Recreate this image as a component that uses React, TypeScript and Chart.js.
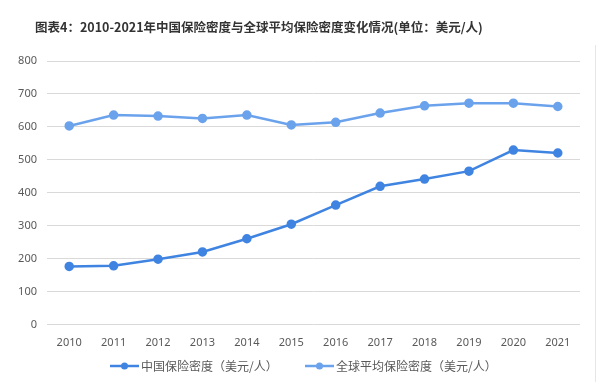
import React, { useEffect, useRef } from "react";
import { Chart, registerables } from "chart.js";

Chart.register(...registerables);

const years = ["2010", "2011", "2012", "2013", "2014", "2015", "2016", "2017", "2018", "2019", "2020", "2021"];
const chinaDensity = [177, 179, 199, 221, 261, 305, 363, 420, 442, 466, 530, 521];
const globalDensity = [603, 636, 633, 626, 636, 606, 614, 642, 664, 672, 672, 662];
const seriesNames = ["中国保险密度（美元/人）", "全球平均保险密度（美元/人）"];
const titleText = "图表4：2010-2021年中国保险密度与全球平均保险密度变化情况(单位：美元/人)";

const chinaColor = "#4084e2";
const globalColor = "#6ba2ec";
const seriesColors = [chinaColor, globalColor];

const decorPlugin = {
  id: "decor",
  afterDraw(chart: any) {
    const ctx = chart.ctx;
    ctx.save();
    // title
    ctx.font = "bold 12.5px 'Noto Sans CJK SC', sans-serif";
    ctx.fillStyle = "#333333";
    ctx.textBaseline = "middle";
    ctx.textAlign = "left";
    ctx.fillText(titleText, 35, 27);
    // frame line on the right
    ctx.strokeStyle = "#e6e6e6";
    ctx.lineWidth = 1;
    ctx.beginPath();
    ctx.moveTo(595.5, 45);
    ctx.lineTo(595.5, 382);
    ctx.stroke();
    // legend
    const ly = 366;
    const starts = [110, 305];
    ctx.font = "12px 'Noto Sans CJK SC', sans-serif";
    seriesNames.forEach((name, i) => {
      const x0 = starts[i];
      const col = seriesColors[i];
      ctx.strokeStyle = col;
      ctx.lineWidth = 2.5;
      ctx.beginPath();
      ctx.moveTo(x0, ly);
      ctx.lineTo(x0 + 29, ly);
      ctx.stroke();
      ctx.fillStyle = col;
      ctx.beginPath();
      ctx.arc(x0 + 14.5, ly, 3.5, 0, Math.PI * 2);
      ctx.fill();
      ctx.fillStyle = "#595959";
      ctx.fillText(name, x0 + 31, ly);
    });
    ctx.restore();
  },
};

export default function App() {
  const ref = useRef<HTMLCanvasElement>(null);
  useEffect(() => {
    document.body.style.margin = "0";
    const chart = new Chart(ref.current!, {
      type: "line",
      data: {
        labels: years,
        datasets: [
          {
            label: seriesNames[0],
            data: chinaDensity,
            borderColor: chinaColor,
            backgroundColor: chinaColor,
            borderWidth: 2.5,
            pointRadius: 3.5,
            pointBackgroundColor: chinaColor,
            pointBorderColor: chinaColor,
          },
          {
            label: seriesNames[1],
            data: globalDensity,
            borderColor: globalColor,
            backgroundColor: globalColor,
            borderWidth: 2.5,
            pointRadius: 3.5,
            pointBackgroundColor: globalColor,
            pointBorderColor: globalColor,
          },
        ],
      },
      options: {
        responsive: false,
        animation: false,
        layout: { padding: { left: 10, right: 32, top: 61, bottom: 30 } },
        plugins: {
          title: { display: false },
          tooltip: { enabled: false },
          legend: { display: false },
        },
        scales: {
          x: {
            offset: true,
            grid: { display: false },
            border: { display: false },
            ticks: { color: "#595959", font: { size: 11, family: "'Noto Sans', sans-serif" }, padding: 3 },
          },
          y: {
            min: 0,
            max: 800,
            afterFit: (s: any) => {
              s.width = 37;
            },
            grid: { color: "#d9d9d9", lineWidth: 1, drawTicks: false },
            border: { display: false },
            ticks: { stepSize: 100, color: "#595959", font: { size: 11, family: "'Noto Sans', sans-serif" }, padding: 10 },
          },
        },
      },
      plugins: [decorPlugin],
    });
    return () => chart.destroy();
  }, []);
  return (
    <div style={{ width: 612, height: 382, background: "#ffffff" }}>
      <canvas ref={ref} width={612} height={382} />
    </div>
  );
}
